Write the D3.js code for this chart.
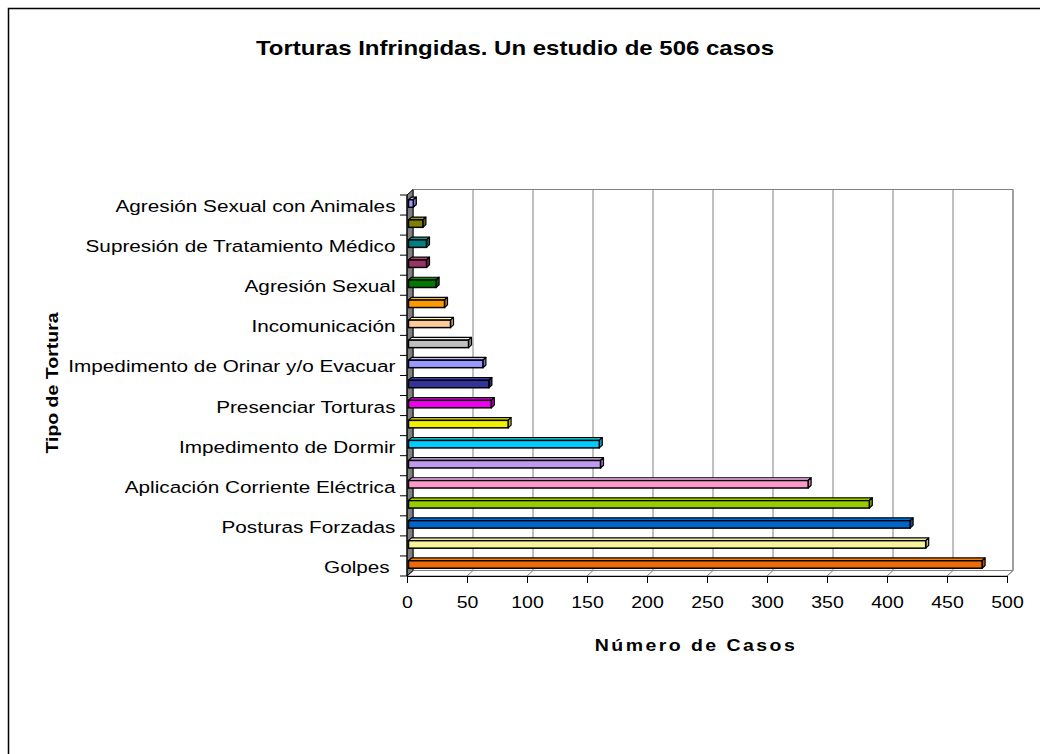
<!DOCTYPE html>
<html>
<head>
<meta charset="utf-8">
<script src="https://cdn.jsdelivr.net/npm/d3@7"></script>
<style>
  body { margin: 0; background: #fff; }
  svg text { font-family: "Liberation Sans", Arial, sans-serif; fill: #000; white-space: pre; }
</style>
</head>
<body>
<div id="chart"></div>
<script>
// categories from bottom to top; Excel skipped every other label
const categorias = ["Golpes ", "", "Posturas Forzadas", "", "Aplicación Corriente Eléctrica", "",
  "Impedimento de Dormir", "", "Presenciar Torturas", "", "Impedimento de Orinar y/o Evacuar", "",
  "Incomunicación", "", "Agresión Sexual", "", "Supresión de Tratamiento Médico", "",
  "Agresión Sexual con Animales"];
const casos = [478, 431, 418, 384, 333, 160, 159, 83, 69, 67, 62, 50, 35, 30, 23, 15, 15, 12, 4];
const colores = ["#ee6a08", "#f8f49a", "#0066cc", "#99cc00", "#ff99cc", "#c09af0", "#00ccff",
  "#f0f000", "#ee00ee", "#333399", "#9999ff", "#c0c0c0", "#ffcc99", "#ff9900", "#007a00",
  "#993366", "#008080", "#808000", "#9999ff"];
const ticksX = [0, 50, 100, 150, 200, 250, 300, 350, 400, 450, 500];

const W = 1040, H = 754;
const DX = 6, DY = -5.5;   // 3-D depth of the plot box
const SX = 1.22;           // the original picture is stretched horizontally

const svg = d3.select('#chart').append('svg')
    .attr('width', W)
    .attr('height', H);

// outer chart frame (runs past the window on the right and bottom)
svg.append('rect')
    .attr('x', 8.5).attr('y', 8.5)
    .attr('width', 1100).attr('height', 800)
    .attr('fill', '#fff')
    .attr('stroke', '#000')
    .attr('stroke-width', 1.5);

const x = d3.scaleLinear().domain([0, 500]).range([407, 1007]);
const idx = d3.range(categorias.length);
const y = d3.scaleBand().domain(idx.slice().reverse()).range([195, 576]);

const x0 = x(0), x1 = x(500), yTop = 195, yBot = 576;

// back wall
svg.append('path')
    .attr('d', `M${x0 + DX},${yTop + DY}H${x1 + DX}V${yBot + DY}H${x0 + DX}Z`)
    .attr('fill', '#fff')
    .attr('stroke', '#808080');

// grid lines on back wall + floor
ticksX.forEach(t => {
  svg.append('line')
      .attr('x1', x(t) + DX).attr('x2', x(t) + DX)
      .attr('y1', yTop + DY).attr('y2', yBot + DY)
      .attr('stroke', '#808080');
  svg.append('line')
      .attr('x1', x(t)).attr('x2', x(t) + DX)
      .attr('y1', yBot).attr('y2', yBot + DY)
      .attr('stroke', '#808080');
});
svg.append('path')
    .attr('d', `M${x0},${yBot}L${x0 + DX},${yBot + DY}H${x1 + DX}L${x1},${yBot}Z`)
    .attr('fill', 'none')
    .attr('stroke', '#808080');

// left side wall (grey)
svg.append('path')
    .attr('d', `M${x0},${yTop}L${x0 + DX},${yTop + DY}V${yBot + DY}L${x0},${yBot}Z`)
    .attr('fill', '#808080')
    .attr('stroke', '#000');

// bars drawn as 3-D boxes at mid depth
const fA = 0.25, fB = 0.75;
const bh = 7.5;
const g = svg.append('g');
idx.forEach(i => {
  const v = casos[i];
  const c = d3.color(colores[i]);
  const xa = x(0) + DX * fA, xb = x(v) + DX * fA;
  const yc = y(i) + y.bandwidth() / 2 - 1.5;
  const ya = yc - bh / 2, yb = yc + bh / 2;
  const ddx = DX * (fB - fA), ddy = DY * (fB - fA);
  // top face
  g.append('path')
      .attr('d', `M${xa},${ya}L${xa + ddx},${ya + ddy}H${xb + ddx}L${xb},${ya}Z`)
      .attr('fill', c.brighter(0.6))
      .attr('stroke', '#000').attr('stroke-width', 1.2).attr('stroke-linejoin', 'round');
  // end face
  g.append('path')
      .attr('d', `M${xb},${ya}L${xb + ddx},${ya + ddy}V${yb + ddy}L${xb},${yb}Z`)
      .attr('fill', c.darker(0.7))
      .attr('stroke', '#000').attr('stroke-width', 1.2).attr('stroke-linejoin', 'round');
  // front face
  g.append('rect')
      .attr('x', xa).attr('y', ya)
      .attr('width', xb - xa).attr('height', bh)
      .attr('fill', colores[i])
      .attr('stroke', '#000').attr('stroke-width', 1.5);
});

// front axes
const xAxis = d3.axisBottom(x).tickValues(ticksX).tickSize(7).tickPadding(14);
svg.append('g')
    .attr('transform', `translate(0,${yBot})`)
    .call(xAxis)
    .call(s => s.selectAll('text').attr('font-size', 16).attr('font-family', null)
        .attr('transform', `scale(${SX},1)`))
    .call(s => s.selectAll('line, path').attr('stroke', '#000'));

svg.append('line')
    .attr('x1', x0).attr('x2', x0)
    .attr('y1', yTop).attr('y2', yBot)
    .attr('stroke', '#000');

// category boundary ticks
d3.range(categorias.length + 1).forEach(k => {
  const yy = yBot - k * y.step();
  svg.append('line')
      .attr('x1', x0 - 7).attr('x2', x0)
      .attr('y1', yy).attr('y2', yy)
      .attr('stroke', '#000');
});

// category labels
svg.append('g').selectAll('text')
    .data(idx.filter(i => categorias[i] !== ''))
    .join('text')
    .attr('transform', i => `translate(395.5,${y(i) + y.bandwidth() / 2 + 1}) scale(${SX},1)`)
    .attr('text-anchor', 'end')
    .attr('dy', '0.35em')
    .attr('font-size', 17)
    .text(i => categorias[i]);

// titles
svg.append('text')
    .attr('transform', `translate(515,55) scale(1.2,1)`)
    .attr('text-anchor', 'middle')
    .attr('font-size', 20).attr('font-weight', 'bold')
    .text('Torturas Infringidas. Un estudio de 506 casos');

svg.append('text')
    .attr('transform', `translate(696,651) scale(${SX},1)`)
    .attr('text-anchor', 'middle')
    .attr('font-size', 16).attr('font-weight', 'bold')
    .attr('letter-spacing', 2)
    .text('Número de Casos');

svg.append('text')
    .attr('transform', `translate(58,383) rotate(-90) scale(${SX},1)`)
    .attr('text-anchor', 'middle')
    .attr('font-size', 16).attr('font-weight', 'bold')
    .text('Tipo de Tortura');
</script>
</body>
</html>
